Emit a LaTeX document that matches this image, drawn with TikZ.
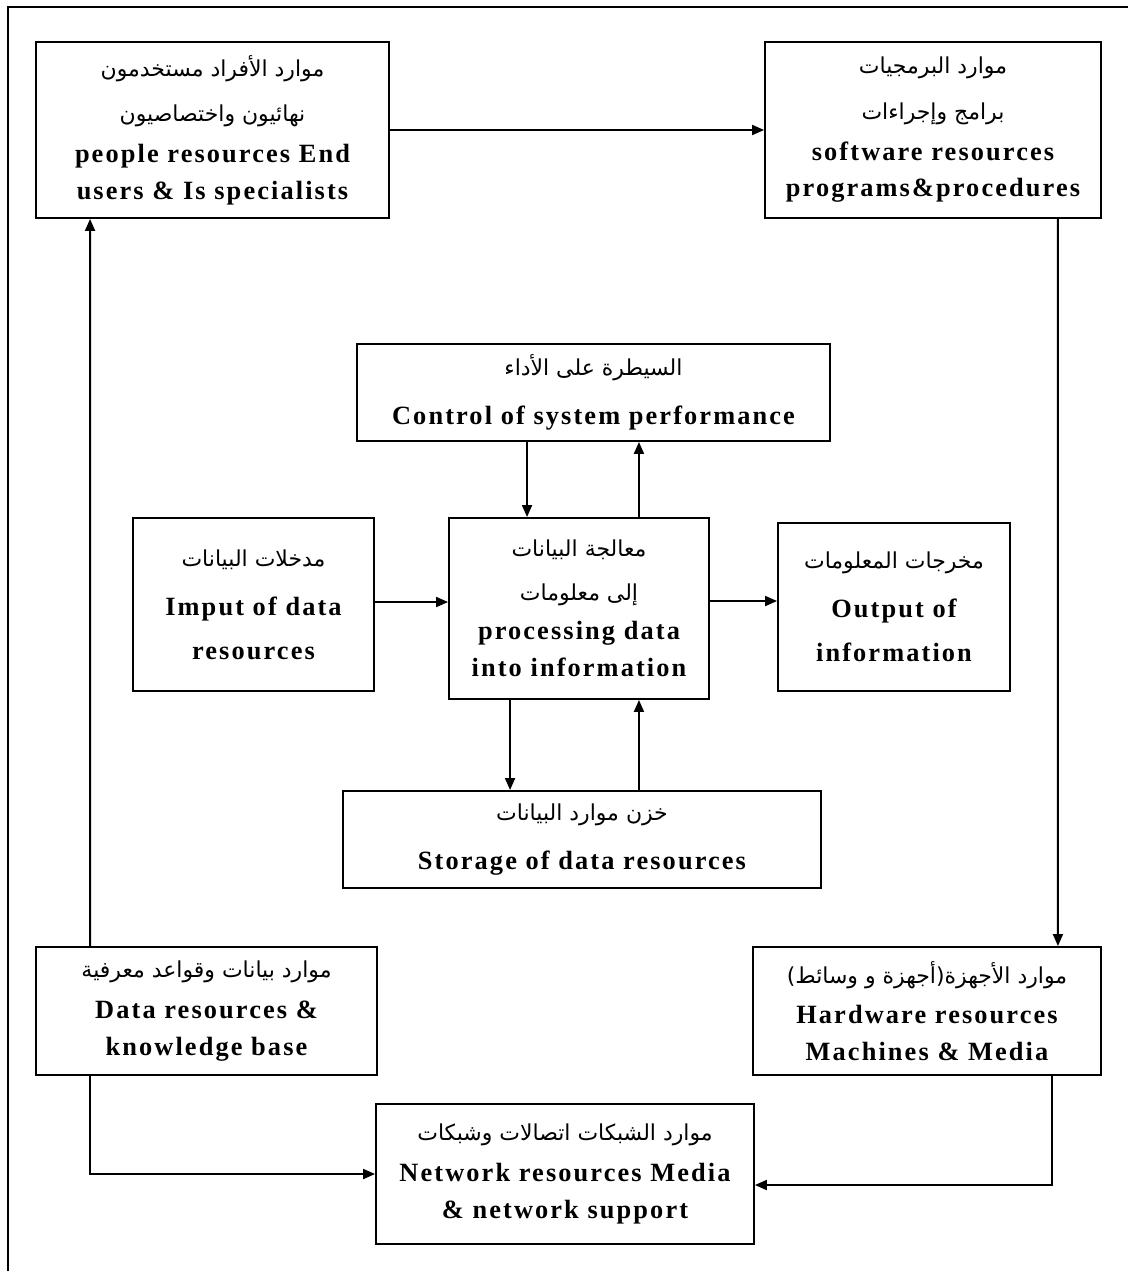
\documentclass[tikz,border=0pt]{standalone}
\usepackage{fontspec}
\setmainfont[LetterSpace=8]{Liberation Serif}
\newfontfamily\arabicfont[Script=Arabic]{DejaVu Sans}
\TeXXeTstate=1
\usetikzlibrary{arrows.meta}
\newcommand{\arline}[1]{{\arabicfont\mdseries\fontsize{12.5}{15}\selectfont\beginR #1\endR}}

\begin{document}
\begin{tikzpicture}[
    x=0.02cm, y=-0.02cm,
    resbox/.style={draw=black, line width=1.1pt, inner sep=0pt, align=center,
                   font=\fontsize{15}{21}\selectfont\bfseries},
    flow/.style={-{Triangle[length=0.24cm, width=0.2cm]}, line width=1.1pt}
]
\useasboundingbox (0,0) rectangle (1128,1271);

% Outer frame
\draw[line width=1.1pt] (8,1271) -- (8,7) -- (1128,7);

% Outer ring of resources
\node[resbox, minimum width=7.06cm, minimum height=3.52cm] (people) at (212.5,130) {
\arline{موارد الأفراد مستخدمون}\\[5pt]
\arline{نهائيون واختصاصيون}\\[2pt]
people resources End\\
users \& Is specialists};

\node[resbox, minimum width=6.72cm, minimum height=3.52cm] (soft) at (933,130) {
\arline{موارد البرمجيات}\\[5pt]
\arline{برامج وإجراءات}\\[2pt]
software resources\\
programs\&procedures};

\node[resbox, minimum width=6.96cm, minimum height=2.56cm] (hard) at (927,1011) {
\arline{موارد الأجهزة(أجهزة و وسائط)}\\[2pt]
Hardware resources\\
Machines \& Media};

\node[resbox, minimum width=6.82cm, minimum height=2.56cm] (data) at (206.5,1011) {
\arline{موارد بيانات وقواعد معرفية}\\[2pt]
Data resources \&\\
knowledge base};

\node[resbox, minimum width=7.56cm, minimum height=2.8cm] (net) at (565,1174) {
\arline{موارد الشبكات اتصالات وشبكات}\\[2pt]
Network resources Media\\
\& network support};

% Inner activities
\node[resbox, minimum width=9.46cm, minimum height=1.94cm] (ctrl) at (593.5,392.5) {
\arline{السيطرة على الأداء}\\[7pt]
Control of system performance};

\node[resbox, minimum width=4.82cm, minimum height=3.46cm] (input) at (253.5,604.5) {
\arline{مدخلات البيانات}\\[7pt]
Imput of data\\[4pt]
resources};

\node[resbox, minimum width=5.2cm, minimum height=3.62cm] (proc) at (579,608.5) {
\arline{معالجة البيانات}\\[4pt]
\arline{إلى معلومات}\\[1pt]
processing data\\
into information};

\node[resbox, minimum width=4.64cm, minimum height=3.36cm] (output) at (894,607) {
\arline{مخرجات المعلومات}\\[7pt]
Output of\\[4pt]
information};

\node[resbox, minimum width=9.56cm, minimum height=1.94cm] (store) at (582,839.5) {
\arline{خزن موارد البيانات}\\[7pt]
Storage of data resources};

% Outer cycle
\draw[flow] (people.east) -- (soft.west);
\draw[flow] ([xshift=-0.88cm]soft.south east) -- ([xshift=-0.88cm]hard.north east);
\draw[flow] ([xshift=-1cm]hard.south east) |- ([yshift=-0.22cm]net.east);
\draw[flow] ([xshift=1.1cm]data.south west) |- (net.west);
\draw[flow] ([xshift=1.1cm]data.north west) -- ([xshift=1.1cm]people.south west);

% Inner flows
\draw[flow] ([xshift=3.42cm]ctrl.south west) coordinate (c1) -- (c1 |- proc.north);
\draw[flow] ([xshift=-1.42cm]proc.north east) coordinate (p1) -- (p1 |- ctrl.south);
\draw[flow] ([yshift=0.05cm]input.east) coordinate (i1) -- (i1 -| proc.west);
\draw[flow] ([yshift=0.15cm]proc.east) coordinate (p2) -- (p2 -| output.west);
\draw[flow] ([xshift=1.24cm]proc.south west) coordinate (p3) -- (p3 |- store.north);
\draw[flow] ([xshift=-1.42cm]proc.south east) coordinate (p4)
    ++(0,0) (p4 |- store.north) -- (p4);

\end{tikzpicture}
\end{document}
